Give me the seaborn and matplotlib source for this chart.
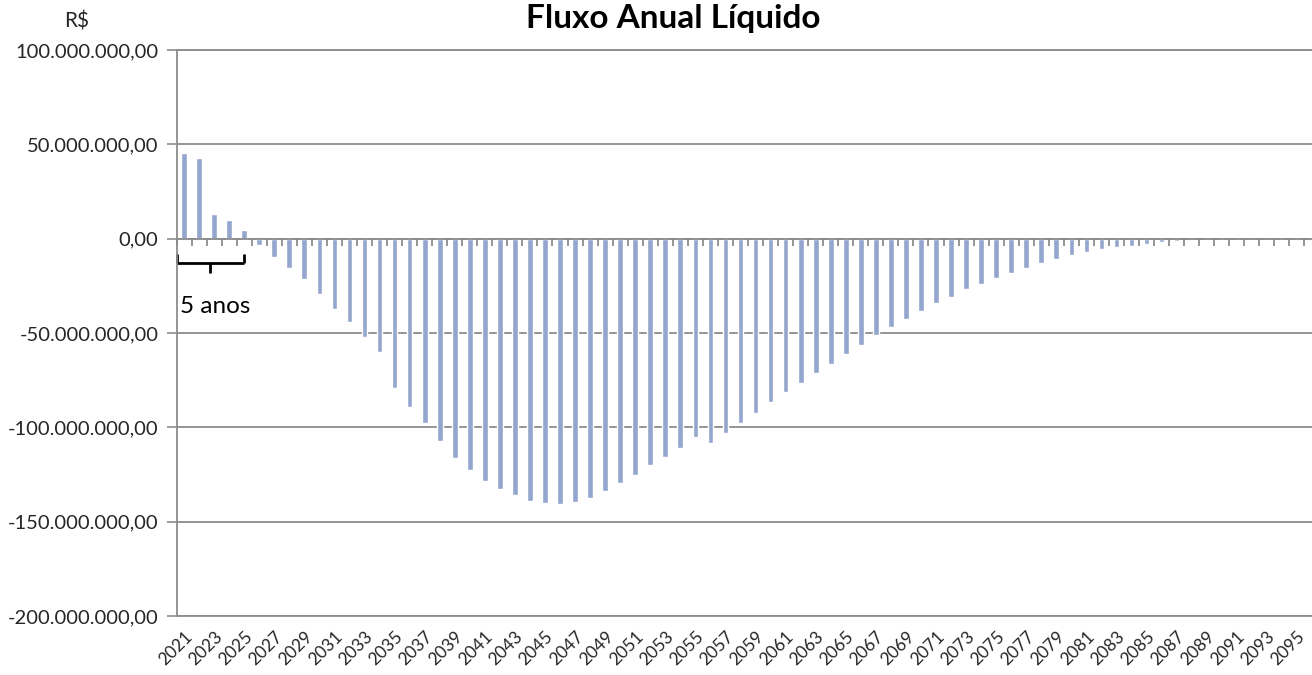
import numpy as np
import pandas as pd
import matplotlib
matplotlib.use("Agg")
import matplotlib.pyplot as plt
from matplotlib.ticker import FuncFormatter
import seaborn as sns

# Annual net flow (R$ millions), 2021-2096
years = [str(y) for y in range(2021, 2097)]
net_flow_millions = [
    45.4, 42.8, 13.3, 10.1, 4.8, -3.2, -9.7, -15.5, -21.4, -29.2,
    -37.1, -44.4, -52.0, -60.1, -79.2, -89.2, -97.7, -107.1, -116.5, -122.5,
    -128.3, -132.7, -136.1, -138.8, -140.2, -140.5, -139.6, -137.2, -133.8, -129.4,
    -125.1, -120.0, -115.7, -110.7, -105.3, -108.3, -102.8, -97.7, -92.6, -86.6,
    -81.5, -76.5, -71.4, -66.4, -61.1, -56.2, -51.3, -46.8, -42.6, -38.5,
    -34.3, -30.9, -26.7, -24.2, -20.7, -18.2, -15.7, -13.1, -10.6, -8.8,
    -7.1, -5.5, -4.6, -3.7, -2.8, -1.9, -1.2, -0.9, -0.4, -0.2,
    0.0, 0.0, 0.0, 0.0, 0.0, 0.0,
]
y_ticks = [-200e6, -150e6, -100e6, -50e6, 0, 50e6, 100e6]

df = pd.DataFrame({"ano": years, "fluxo": np.array(net_flow_millions) * 1e6})

sns.set_style("white")
plt.rcParams["font.family"] = ["Lato", "DejaVu Sans"]

GRAY = "#8c8c8c"
BAR = "#94A6CE"
TEXT = "#262626"

W, H = 1312, 675
fig = plt.figure(figsize=(W / 100, H / 100), dpi=100)
left, right, top, bottom = 176.5 / W, 1.0, 1 - 50 / H, 1 - 616 / H
ax = fig.add_axes([left, bottom, right - left, top - bottom])

sns.barplot(data=df, x="ano", y="fluxo", order=years, color=BAR,
            saturation=1, width=0.38, ax=ax)

ax.set_xlim(-0.5, 75.0)
ax.set_ylim(-200e6, 100e6)
ax.set_xlabel("")
ax.set_ylabel("")

# y axis: Brazilian number format
def br_fmt(v, _pos):
    s = f"{abs(v):,.2f}".replace(",", "X").replace(".", ",").replace("X", ".")
    return ("-" if v < 0 else "") + s

ax.set_yticks(y_ticks)
ax.yaxis.set_major_formatter(FuncFormatter(br_fmt))
ax.tick_params(axis="y", direction="out", length=7, width=1.2, color=GRAY,
               labelsize=14.5, labelcolor=TEXT, pad=6, left=True)
ax.grid(axis="y", color=GRAY, lw=1.3)
ax.set_axisbelow(True)

# category labels every other year, rotated
ax.set_xticks(range(0, len(years), 2))
ax.set_xticklabels(years[::2], rotation=45, ha="right", rotation_mode="anchor",
                   fontsize=12.5, color=TEXT)
ax.tick_params(axis="x", length=0, pad=9)

for name, sp in ax.spines.items():
    sp.set_color(GRAY)
    sp.set_linewidth(1.3)
ax.spines["right"].set_visible(False)

# zero axis with category-boundary tick marks
zero_pos = (0 - (-200e6)) / 300e6
sec = ax.secondary_xaxis(zero_pos)
for name, sp in sec.spines.items():
    sp.set_visible(False)
ax.axhline(0, color=GRAY, lw=1.3, zorder=1)
sec.set_xticks(np.arange(-0.5, len(years) + 0.5, 1))
sec.xaxis.set_ticks_position("bottom")
sec.tick_params(axis="x", direction="out", length=5, width=1.3, color=GRAY,
                labelbottom=False, labeltop=False)

# "5 anos" bracket
bx0, bx1 = -0.5, 4.0
by, bup, bdn = -12.7e6, -8.0e6, -18.0e6
kw = dict(color="black", lw=2, clip_on=False, solid_capstyle="butt")
ax.plot([bx0, bx1], [by, by], **kw)
ax.plot([bx0, bx0], [by, bup], **kw)
ax.plot([bx1, bx1], [by, bup], **kw)
ax.plot([(bx0 + bx1) / 2] * 2, [by, bdn], **kw)
ax.text(-0.25, -36e6, "5 anos", fontsize=17.5, color="black", va="center", ha="left")

fig.text(77 / W, 1 - 21 / H, "R$", fontsize=15, color=TEXT, ha="center", va="center")
fig.text(673 / W, 1 - 28 / H, "Fluxo Anual Líquido", fontsize=24, fontweight="bold",
         color="black", ha="center", va="baseline")

fig.savefig("out.png", dpi=100, facecolor="white")
